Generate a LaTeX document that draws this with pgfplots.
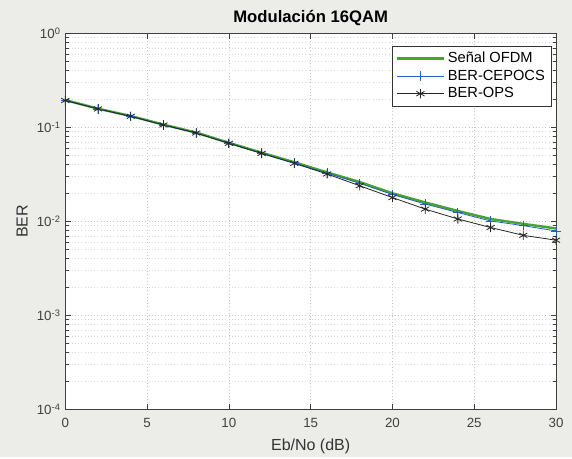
\documentclass[border=0pt]{standalone}
\usepackage{fontspec}
\setmainfont{Liberation Sans}
\usepackage{pgfplots}
\pgfplotsset{compat=1.18}
\usetikzlibrary{backgrounds}

\definecolor{ofdm}{RGB}{70,165,45}
\definecolor{cepo}{RGB}{35,95,200}
\definecolor{figbg}{RGB}{236,236,233}

\begin{document}
\begin{tikzpicture}
\begin{axis}[
  name=ax,
  scale only axis,
  width=368pt, height=282pt,
  ymode=log,
  xmin=0, xmax=30, ymin=1e-4, ymax=1,
  xtick={0,5,...,30},
  ytick={1e-4,1e-3,1e-2,1e-1,1},
  yticklabels={10\textsuperscript{-4},10\textsuperscript{-3},10\textsuperscript{-2},10\textsuperscript{-1},10\textsuperscript{0}},
  tick label style={font=\fontsize{10}{12}\selectfont, text=black!75, /pgf/number format/assume math mode=true},
  xticklabel style={yshift=-3pt},
  xlabel={Eb/No (dB)}, ylabel={BER},
  label style={font=\fontsize{12}{14}\selectfont, text=black!80},
  xlabel style={yshift=-2pt},
  title={Modulación 16QAM},
  title style={font=\fontsize{12.5}{14}\selectfont\bfseries, yshift=-4pt},
  axis background/.style={fill=white},
  axis line style={black!75, line width=0.6pt},
  tick style={black!75, line width=0.5pt},
  major tick length=4pt, minor tick length=2.5pt,
  grid=both,
  major grid style={gray!45, dotted, line width=0.5pt},
  minor grid style={gray!30, dotted, line width=0.4pt},
  legend style={at={(rel axis cs:0.99,0.967)}, anchor=north east, draw=black!80,
    font=\fontsize{11}{13}\selectfont, inner sep=2.5pt, row sep=0pt},
  legend cell align=left,
  legend image code/.code={\draw[mark repeat=2,mark phase=2] plot coordinates {(0cm,0cm) (0.62cm,0cm) (1.24cm,0cm)};},
]
\addplot[ofdm, line width=1.8pt] coordinates {
  (0,0.195) (2,0.158) (4,0.132) (6,0.107) (8,0.088) (10,0.0685)
  (12,0.0538) (14,0.0425) (16,0.0332) (18,0.0262) (20,0.0199)
  (22,0.0159) (24,0.0129) (26,0.0106) (28,0.0094) (30,0.0084)
};
\addlegendentry{Señal OFDM}
\addplot[cepo, line width=0.6pt, mark=+, mark size=3.5pt] coordinates {
  (0,0.194) (2,0.157) (4,0.131) (6,0.106) (8,0.087) (10,0.0678)
  (12,0.0532) (14,0.0419) (16,0.0326) (18,0.0254) (20,0.0193)
  (22,0.0153) (24,0.0124) (26,0.0101) (28,0.0090) (30,0.0079)
};
\addlegendentry{BER-CEPOCS}
\addplot[black!85, line width=0.6pt, mark=asterisk, mark size=3.5pt] coordinates {
  (0,0.193) (2,0.157) (4,0.131) (6,0.106) (8,0.087) (10,0.0676)
  (12,0.0528) (14,0.0414) (16,0.0319) (18,0.0239) (20,0.0179)
  (22,0.0135) (24,0.0106) (26,0.0086) (28,0.0071) (30,0.0063)
};
\addlegendentry{BER-OPS}
\end{axis}
\begin{pgfonlayer}{background}
  \fill[figbg] ([shift={(-49pt,-36pt)}]ax.south west) rectangle ([shift={(12pt,25pt)}]ax.north east);
\end{pgfonlayer}
\end{tikzpicture}
\end{document}
